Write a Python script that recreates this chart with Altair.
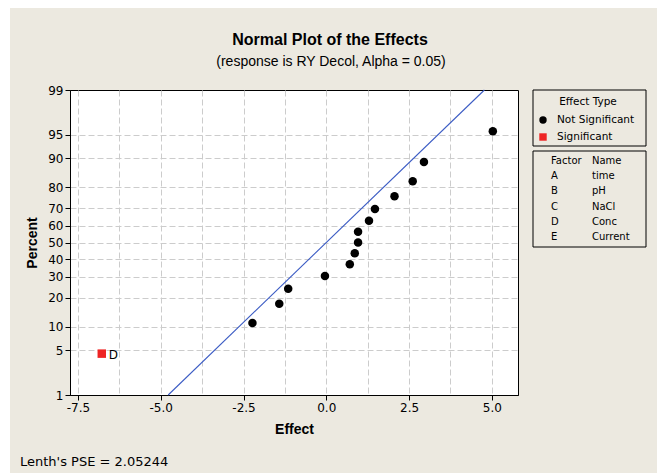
import altair as alt
import pandas as pd
from statistics import NormalDist

# ---------------- data ----------------
effects = [-6.78, -2.23, -1.42, -1.15, -0.04, 0.71, 0.86, 0.96, 0.96, 1.29, 1.47, 2.06, 2.61, 2.95, 5.03]
percents = [4.5, 11.0, 17.5, 24.0, 30.5, 37.0, 43.5, 50.0, 56.5, 63.0, 69.5, 76.0, 82.5, 89.0, 95.5]
effect_types = ["Significant"] + ["Not Significant"] * 14
point_labels = ["D"] + [""] * 14

fit_effects = [-4.775, 4.775]
fit_percents = [1, 99]

y_tick_percents = [1, 5, 10, 20, 30, 40, 50, 60, 70, 80, 90, 95, 99]
x_grid_values = [-7.5, -6.25, -5.0, -3.75, -2.5, -1.25, 0.0, 1.25, 2.5, 3.75, 5.0]
x_domain = [-7.74, 5.79]

legend_types = ["Not Significant", "Significant"]
legend_colors = ["#000000", "#ee2424"]
legend_shapes = ["circle", "square"]

factors = ["A", "B", "C", "D", "E"]
factor_names = ["time", "pH", "NaCl", "Conc", "Current"]

pse = 2.05244
title_text = "Normal Plot of the Effects"
subtitle_text = "(response is RY Decol, Alpha = 0.05)"

# ---------------- helpers ----------------
FONT = "DejaVu Sans"
TFONT = "Liberation Sans"
BEIGE = "#ece9e0"
W, H = 448, 305

inv = NormalDist().inv_cdf
df = pd.DataFrame({"effect": effects, "percent": percents, "type": effect_types, "label": point_labels})
df["z"] = [inv(p / 100) for p in percents]
fit_df = pd.DataFrame({"effect": fit_effects, "percent": fit_percents})
fit_df["z"] = [inv(p / 100) for p in fit_percents]

major = "abs(datum.value % 2.5) < 0.01"
x_enc = alt.X(
    "effect:Q",
    scale=alt.Scale(domain=x_domain, nice=False, zero=False),
    axis=alt.Axis(
        values=x_grid_values,
        format=".1f",
        labelExpr=f"{major} ? replace(datum.label, '\u2212', '-') : ''",
        tickOpacity={"condition": {"test": major, "value": 1}, "value": 0},
        title="Effect",
        titlePadding=9,
    ),
)
y_enc = alt.Y(
    "z:Q",
    scale=alt.Scale(domain=[inv(0.01), inv(0.99)], nice=False, zero=False),
    axis=alt.Axis(
        values=[inv(p / 100) for p in y_tick_percents],
        labelExpr="'' + round(cumulativeNormal(datum.value) * 100)",
        gridOpacity={"condition": {"test": "abs(datum.value) > 2.3", "value": 0}, "value": 1},
        title="Percent",
        titlePadding=8,
    ),
)

one = pd.DataFrame({"a": [0]})

# white strips round the beige panel (as in the screenshot)
strip_top = alt.Chart(one).mark_rect(fill="white").encode(
    x=alt.value(-70), x2=alt.value(587), y=alt.value(-90), y2=alt.value(-82))
strip_left = alt.Chart(one).mark_rect(fill="white").encode(
    x=alt.value(-70), x2=alt.value(-60), y=alt.value(-90), y2=alt.value(383))

title_mark = alt.Chart(pd.DataFrame({"t": [title_text]})).mark_text(
    align="center", baseline="middle", fontSize=16, fontWeight="bold", font=TFONT, color="black").encode(
    x=alt.value(260), y=alt.value(-50), text="t:N")
subtitle_mark = alt.Chart(pd.DataFrame({"t": [subtitle_text]})).mark_text(
    align="center", baseline="middle", fontSize=14, font=TFONT, color="black").encode(
    x=alt.value(261), y=alt.value(-28), text="t:N")

fit_line = alt.Chart(fit_df).mark_line(color="#3c5cc4", strokeWidth=1.1).encode(x=x_enc, y=y_enc)

points = alt.Chart(df).mark_point(filled=True, size=72, opacity=1).encode(
    x=x_enc,
    y=y_enc,
    color=alt.Color("type:N", scale=alt.Scale(domain=legend_types, range=legend_colors), legend=None),
    shape=alt.Shape("type:N", scale=alt.Scale(domain=legend_types, range=legend_shapes), legend=None),
)
point_text = alt.Chart(df).mark_text(align="left", baseline="middle", dx=7, dy=1, fontSize=12, font=FONT, color="black").encode(
    x=x_enc, y=y_enc, text="label:N")

# legend box 1: effect type
box1 = alt.Chart(one).mark_rect(fillOpacity=0, stroke="black", strokeWidth=1).encode(
    x=alt.value(463), x2=alt.value(576), y=alt.value(0), y2=alt.value(56))
leg_title = alt.Chart(pd.DataFrame({"t": ["Effect Type"]})).mark_text(
    align="center", baseline="middle", fontSize=10.5, font=FONT, color="black").encode(
    x=alt.value(518), y=alt.value(12), text="t:N")
leg_sym = []
for i, t in enumerate(legend_types):
    leg_sym.append(
        alt.Chart(pd.DataFrame({"type": [t]})).mark_point(filled=True, size=55, opacity=1).encode(
            x=alt.value(473), y=alt.value(30 + 17 * i),
            color=alt.Color("type:N", scale=alt.Scale(domain=legend_types, range=legend_colors), legend=None),
            shape=alt.Shape("type:N", scale=alt.Scale(domain=legend_types, range=legend_shapes), legend=None),
        )
    )
leg_text = alt.Chart(pd.DataFrame({"t": ["\n".join(legend_types)]})).mark_text(
    align="left", baseline="middle", lineBreak="\n", lineHeight=17, fontSize=10.5, font=FONT, color="black").encode(
    x=alt.value(487), y=alt.value(30), text="t:N")

# legend box 2: factor table
box2 = alt.Chart(one).mark_rect(fillOpacity=0, stroke="black", strokeWidth=1).encode(
    x=alt.value(463), x2=alt.value(576), y=alt.value(61), y2=alt.value(157))
tab = pd.DataFrame({"f": ["\n".join(["Factor"] + factors)], "n": ["\n".join(["Name"] + factor_names)]})
col_f = alt.Chart(tab).mark_text(align="left", baseline="middle", lineBreak="\n", lineHeight=15.2, fontSize=10, font=FONT, color="black").encode(
    x=alt.value(481), y=alt.value(71), text="f:N")
col_n = alt.Chart(tab).mark_text(align="left", baseline="middle", lineBreak="\n", lineHeight=15.2, fontSize=10, font=FONT, color="black").encode(
    x=alt.value(522), y=alt.value(71), text="n:N")

foot = alt.Chart(pd.DataFrame({"t": [f"Lenth's PSE = {pse}"]})).mark_text(
    align="left", baseline="middle", fontSize=13, font=FONT, color="black").encode(
    x=alt.value(-50), y=alt.value(372), text="t:N")

chart = alt.layer(
    strip_top, strip_left, title_mark, subtitle_mark, fit_line, points, point_text,
    box1, leg_title, *leg_sym, leg_text, box2, col_f, col_n, foot,
).properties(
    width=W,
    height=H,
    autosize=alt.AutoSizeParams(type="none"),
    padding={"left": 70, "top": 90, "right": 139, "bottom": 78},
    background=BEIGE,
).configure_view(
    stroke="black", strokeWidth=1, fill="white"
).configure_axis(
    labelFont=FONT, labelFontSize=12, labelColor="black",
    titleFont=TFONT, titleFontSize=14, titleFontWeight="bold", titleColor="black",
    domainColor="black", tickColor="black", tickSize=5, labelPadding=2,
    grid=True, gridColor="#cccccc", gridDash=[6, 3], gridWidth=1,
)

chart.save("out.html", embed_options={"renderer": "svg", "actions": False})
